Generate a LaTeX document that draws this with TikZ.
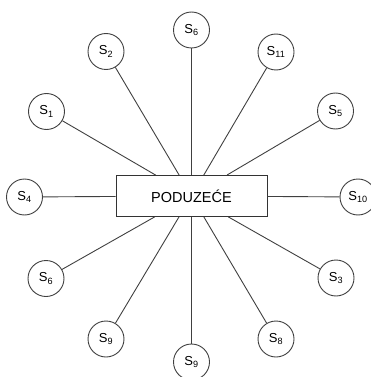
\documentclass[tikz,border=0pt]{standalone}
\usepackage{fontspec}
\setmainfont{Liberation Sans}
\usetikzlibrary{positioning}

\begin{document}
\begin{tikzpicture}[x=1pt,y=1pt,yscale=-1,xscale=1,
  stake/.style={draw=black!75, line width=0.9pt, circle, minimum size=36pt, inner sep=0pt, font=\fontsize{13}{15}\selectfont},
  firm/.style={draw=black!80, line width=0.9pt, rectangle, minimum width=151pt, minimum height=41pt, font=\fontsize{14.5}{17}\selectfont},
  link/.style={draw=black!75, line width=0.9pt}]
%set diagram left start at 0, and has height of 377
\useasboundingbox (0,0) rectangle (371,377);

%Shape: Rectangle
\node[firm] (firm) at (191.5,196) {PODUZEĆE};

%Shape: Circle
\node[stake] (s6t) at (191.5,30) {S\textsubscript{6}};
\node[stake] (s2) at (106,51.5) {S\textsubscript{2}};
\node[stake] (s11) at (276,52) {S\textsubscript{11}};
\node[stake] (s1) at (46.5,111.5) {S\textsubscript{1}};
\node[stake] (s5) at (335.5,111) {S\textsubscript{5}};
\node[stake] (s4) at (24.5,197) {S\textsubscript{4}};
\node[stake] (s10) at (358,197) {S\textsubscript{10}};
\node[stake] (s6) at (46,278.5) {S\textsubscript{6}};
\node[stake] (s3) at (336,278) {S\textsubscript{3}};
\node[stake] (s9l) at (106,339) {S\textsubscript{9}};
\node[stake] (s8) at (276,339) {S\textsubscript{8}};
\node[stake] (s9b) at (191.5,362) {S\textsubscript{9}};

% Connection
\foreach \s in {s6t,s2,s11,s1,s5,s4,s10,s6,s3,s9l,s8,s9b}
  \path[link] (\s) -- (firm);

\end{tikzpicture}
\end{document}
